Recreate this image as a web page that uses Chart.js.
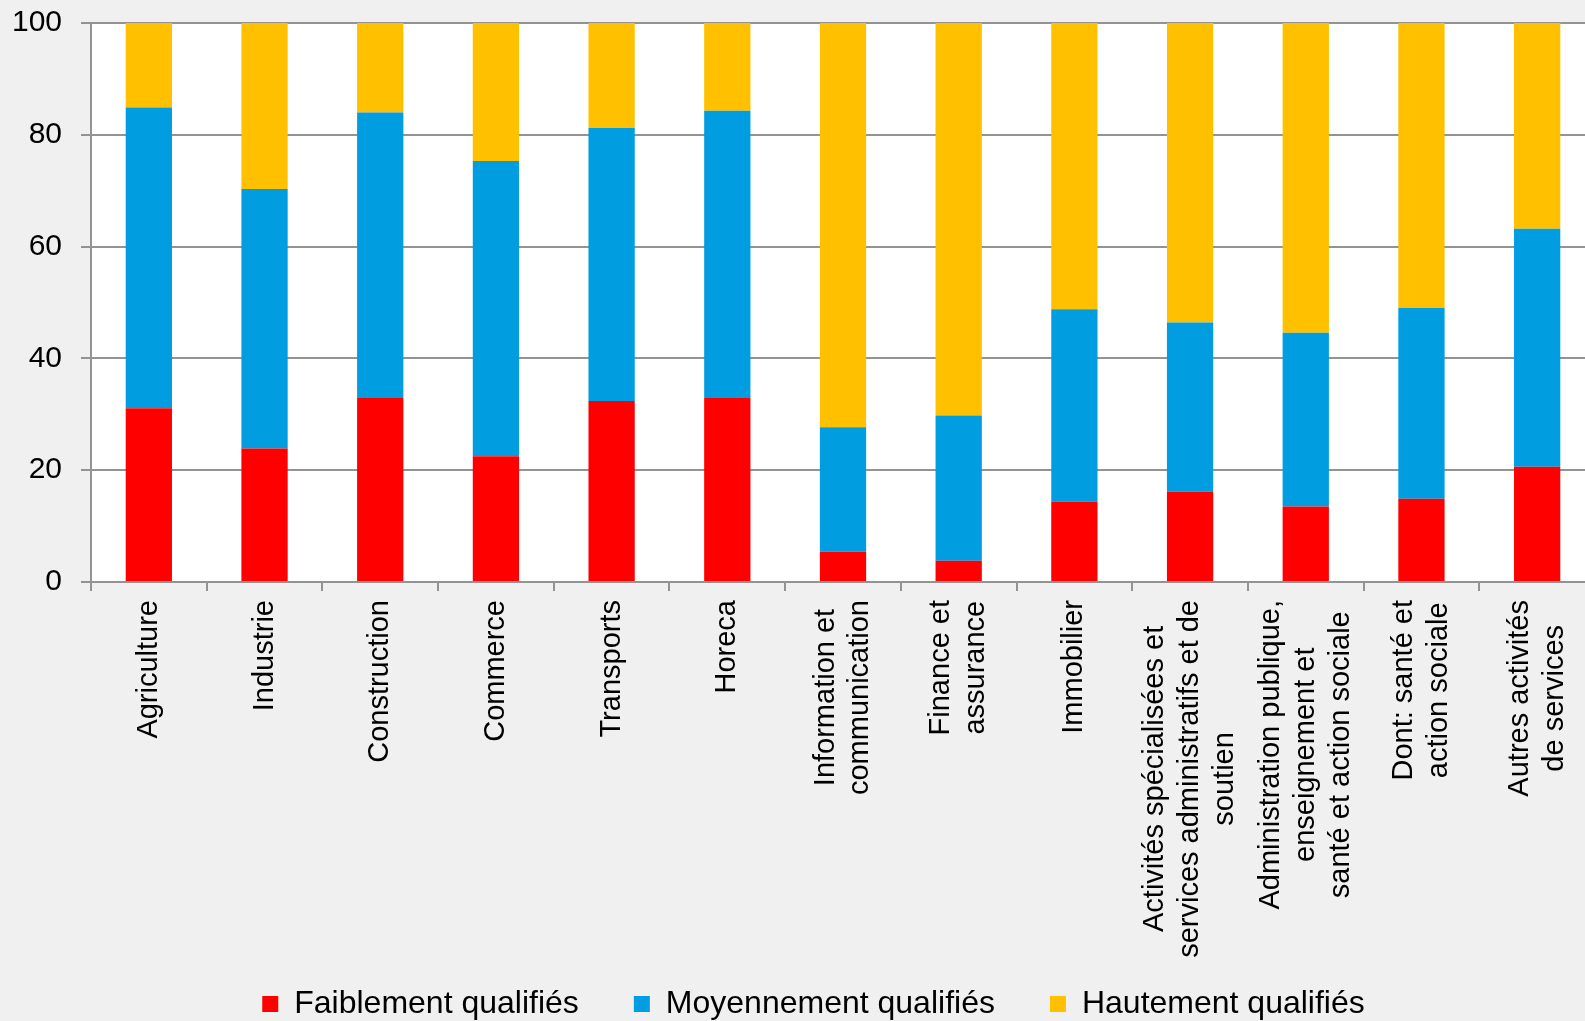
<!DOCTYPE html>
<html lang="fr">
<head>
<meta charset="utf-8">
<title>Niveau de qualification par secteur</title>
<script src="https://cdn.jsdelivr.net/npm/chart.js@4.4.1/dist/chart.umd.min.js"></script>
<style>
  html, body { margin: 0; padding: 0; background: #f0f0f0; overflow: hidden; }
  #wrap { width: 1600px; height: 1030px; }
</style>
</head>
<body>
<div id="wrap"><canvas id="ch" width="1600" height="1030"></canvas></div>
<script>
const categories = [
  'Agriculture', 'Industrie', 'Construction', 'Commerce', 'Transports', 'Horeca',
  ['Information et', 'communication'],
  ['Finance et', 'assurance'],
  'Immobilier',
  ['Activités spécialisées et', 'services administratifs et de', 'soutien'],
  ['Administration publique,', 'enseignement et', 'santé et action sociale'],
  ['Dont: santé et', 'action sociale'],
  ['Autres activités', 'de services']
];
const faibles = [31.1, 23.9, 32.9, 22.5, 32.4, 32.9, 5.4, 3.8, 14.4, 16.2, 13.5, 14.9, 20.6];
const moyens  = [53.8, 46.4, 51.1, 52.8, 48.8, 51.4, 22.3, 26.0, 34.4, 30.2, 31.1, 34.1, 42.6];
const hauts   = [15.1, 29.7, 16.0, 24.7, 18.8, 15.7, 72.3, 70.2, 51.2, 53.6, 55.4, 51.0, 36.8];
const yTicks = [0, 20, 40, 60, 80, 100];

const FONT = '"Liberation Sans", Arial, sans-serif';
const GRID = '#939393';

// fond blanc de la zone de tracé
const plotBg = {
  id: 'plotBg',
  beforeDraw(chart) {
    const { ctx, chartArea: a } = chart;
    ctx.save();
    ctx.fillStyle = '#fff';
    ctx.fillRect(a.left, a.top, a.right - a.left, a.bottom - a.top);
    ctx.restore();
  }
};

// légende un peu décalée vers la droite, comme dans l'original
const legendShift = {
  id: 'legendShift',
  afterLayout(chart) {
    chart.legend.left += 16;
    chart.legend.right += 16;
  }
};

// libellés verticaux, lignes centrées comme dans Excel
const xLabels = {
  id: 'xLabels',
  afterDraw(chart) {
    const { ctx } = chart;
    const sc = chart.scales.x;
    const lh = 29 * 1.2;
    ctx.save();
    ctx.font = '29px ' + FONT;
    ctx.fillStyle = '#000';
    ctx.textAlign = 'center';
    ctx.textBaseline = 'middle';
    categories.forEach((c, i) => {
      const lines = Array.isArray(c) ? c : [c];
      const w = Math.max(...lines.map(l => ctx.measureText(l).width));
      const x = sc.getPixelForTick(i);
      ctx.save();
      ctx.translate(x, sc.top + 18 + w / 2);
      ctx.rotate(-Math.PI / 2);
      lines.forEach((l, j) => ctx.fillText(l, 0, (j - (lines.length - 1) / 2) * lh));
      ctx.restore();
    });
    ctx.restore();
  }
};

const ds = (label, data, color) => ({
  label, data, backgroundColor: color, borderWidth: 0,
  barPercentage: 0.4, categoryPercentage: 1
});

new Chart(document.getElementById('ch'), {
  type: 'bar',
  data: {
    labels: categories,
    datasets: [
      ds('Faiblement qualifiés', faibles, '#ff0000'),
      ds('Moyennement qualifiés', moyens, '#009ee0'),
      ds('Hautement qualifiés', hauts, '#ffc000')
    ]
  },
  options: {
    responsive: false,
    animation: false,
    devicePixelRatio: 1,
    layout: { padding: { top: 23, right: 5, bottom: 0, left: 0 } },
    scales: {
      x: {
        stacked: true,
        afterFit: s => { s.height = 351; s.paddingLeft = 0; s.paddingRight = 0; },
        grid: { offset: true, drawOnChartArea: false, drawTicks: true, tickLength: 9, color: GRID, lineWidth: 2 },
        border: { display: true, color: GRID, width: 2 },
        ticks: { display: false, autoSkip: false }
      },
      y: {
        stacked: true,
        min: 0, max: 100,
        afterFit: s => { s.width = 91; s.paddingTop = 0; s.paddingBottom = 0; },
        afterBuildTicks: s => { s.ticks = yTicks.map(v => ({ value: v })); },
        grid: { color: GRID, lineWidth: 2, tickLength: 10 },
        border: { display: true, color: GRID, width: 2 },
        ticks: { color: '#000', padding: 19, font: { family: FONT, size: 30 } }
      }
    },
    plugins: {
      legend: {
        position: 'bottom',
        labels: {
          color: '#000', boxWidth: 16, boxHeight: 16, padding: 55,
          font: { family: FONT, size: 32 }
        }
      },
      tooltip: { enabled: false }
    }
  },
  plugins: [plotBg, legendShift, xLabels]
});
</script>
</body>
</html>
